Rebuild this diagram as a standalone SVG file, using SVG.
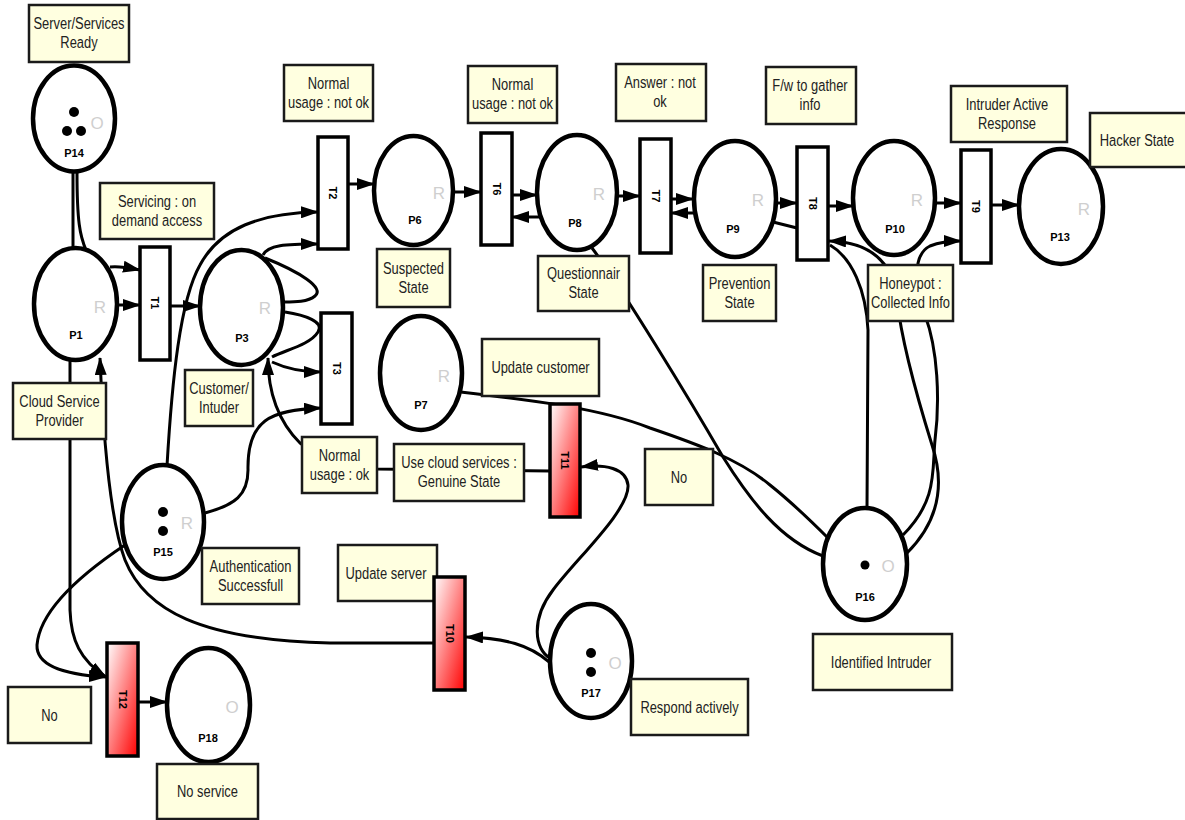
<svg xmlns="http://www.w3.org/2000/svg" width="1185" height="820" viewBox="0 0 1185 820">
<defs>
<linearGradient id="red" x1="0" y1="0" x2="1" y2="1">
<stop offset="0" stop-color="#ffffff"/>
<stop offset="1" stop-color="#ff0000"/>
</linearGradient>
<marker id="ah" markerUnits="userSpaceOnUse" markerWidth="18" markerHeight="12" refX="17" refY="6" orient="auto">
<path d="M0,0 L18,6 L0,12 z" fill="#000"/>
</marker>
<style>
.pl{fill:#fff;stroke:#000;stroke-width:4.5}
.tr{fill:#fff;stroke:#000;stroke-width:3.5}
.trr{fill:url(#red);stroke:#000;stroke-width:3.5}
.lb{fill:#ffffe0;stroke:#1a1a1a;stroke-width:2.5}
.lt{font-family:"Liberation Sans",Arial,sans-serif;font-size:17px;fill:#222;text-anchor:middle}
.pn{font-family:"Liberation Sans",Arial,sans-serif;font-size:11px;font-weight:bold;fill:#000;text-anchor:middle}
.rr{font-family:"Liberation Sans",Arial,sans-serif;font-size:17px;fill:#cfcfcf;text-anchor:middle}
.tn{font-family:"Liberation Sans",Arial,sans-serif;font-size:11px;font-weight:bold;fill:#000;text-anchor:middle}
.c{fill:none;stroke:#000;stroke-width:3}
.a{marker-end:url(#ah)}
.tk{fill:#000}
</style>
</defs>
<rect width="1185" height="820" fill="#fff"/>

<g id="connectors">
<path class="c" d="M73,172 L73,249"/>
<path class="c" d="M77,172 C77,222 80,236 86,250"/>
<path class="c a" d="M110,267 C122,266 130,268 140,270"/>
<path class="c a" d="M117,305 L140,305"/>
<path class="c a" d="M170,306 L200,306"/>
<path class="c a" d="M167,466 C172,380 180,300 200,265 C220,228 260,213 318,212"/>
<path class="c a" d="M263,255 C268,245 285,244 318,244"/>
<path class="c" d="M265,258 C300,272 325,288 315,296 C308,302 295,302 284,302"/>
<path class="c" d="M285,312 C305,315 325,322 318,332 C310,345 285,350 272,357"/>
<path class="c a" d="M272,362 C285,368 300,372 321,372"/>
<path class="c a" d="M205,513 C235,505 248,495 248,470 C247,420 270,410 321,408"/>
<path class="c a" d="M550,471 L377,469 C340,466 320,458 300,443 C282,425 268,400 268,358"/>
<path class="c a" d="M348,184 L374,184"/>
<path class="c a" d="M453,192 L481,192"/>
<path class="c a" d="M512,195 L537,195"/>
<path class="c a" d="M541,217 L512,217"/>
<path class="c a" d="M617,196 L640,196"/>
<path class="c a" d="M671,199 L693,199"/>
<path class="c a" d="M695,213 L671,213"/>
<path class="c a" d="M776,203 L797,203"/>
<path class="c" d="M773,222 L797,228"/>
<path class="c a" d="M828,206 L853,206"/>
<path class="c a" d="M936,203 L961,203"/>
<path class="c a" d="M991,205 L1019,205"/>
<path class="c a" d="M907,553 C945,515 942,475 932,445 C918,400 902,345 897,300 C893,262 870,242 829,241"/>
<path class="c a" d="M903,535 C938,500 932,470 935,440 C940,400 938,350 925,315 C915,285 912,255 930,246 C940,242 950,241 961,241"/>
<path class="c" d="M867,508 L868,330 C866,290 852,258 830,245"/>
<path class="c" d="M461,392 C530,400 600,408 650,428 C700,445 740,460 770,485 C795,505 815,525 828,538"/>
<path class="c" d="M592,248 C620,285 690,400 723,457 C750,500 780,540 823,556"/>
<path class="c a" d="M70,360 L70,610 C71,640 80,660 106,677"/>
<path class="c a" d="M125,545 C80,575 40,610 37,645 C36,668 70,675 106,677"/>
<path class="c a" d="M434,643 L330,643 C200,640 145,610 125,560 C110,520 103,430 100,358"/>
<path class="c a" d="M549,662 C530,645 505,638 466,637"/>
<path class="c a" d="M550,658 C535,650 530,620 553,590 C575,560 630,510 628,485 C626,468 605,464 581,467"/>
<path class="c a" d="M138,702 L167,702"/>
</g>

<g id="P14"><ellipse class="pl" cx="74" cy="118.5" rx="41" ry="53"/><circle class="tk" cx="74" cy="112" r="5"/><circle class="tk" cx="67" cy="131" r="5"/><circle class="tk" cx="81" cy="131" r="5"/><text class="rr" x="97" y="129">O</text><text class="pn" x="74" y="157">P14</text></g>
<g id="P1"><ellipse class="pl" cx="75.5" cy="304" rx="41.5" ry="56"/><text class="rr" x="100" y="313">R</text><text class="pn" x="76" y="339">P1</text></g>
<g id="P3"><ellipse class="pl" cx="241.5" cy="307.5" rx="41.5" ry="57.5"/><text class="rr" x="265" y="314">R</text><text class="pn" x="242" y="342">P3</text></g>
<g id="P6"><ellipse class="pl" cx="413.5" cy="190.5" rx="39.5" ry="54.5"/><text class="rr" x="439" y="199">R</text><text class="pn" x="415" y="224">P6</text></g>
<g id="P8"><ellipse class="pl" cx="577" cy="192.5" rx="40" ry="57.5"/><text class="rr" x="599" y="200">R</text><text class="pn" x="575" y="227">P8</text></g>
<g id="P9"><ellipse class="pl" cx="735" cy="199" rx="41" ry="58"/><text class="rr" x="758" y="206">R</text><text class="pn" x="733" y="233">P9</text></g>
<g id="P10"><ellipse class="pl" cx="894" cy="198" rx="41" ry="57"/><text class="rr" x="917" y="206">R</text><text class="pn" x="895" y="233">P10</text></g>
<g id="P13"><ellipse class="pl" cx="1061" cy="206.5" rx="42" ry="57.5"/><text class="rr" x="1084" y="215">R</text><text class="pn" x="1060" y="241">P13</text></g>
<g id="P7"><ellipse class="pl" cx="421" cy="373" rx="41" ry="57"/><text class="rr" x="444" y="382">R</text><text class="pn" x="421" y="409">P7</text></g>
<g id="P15"><ellipse class="pl" cx="163" cy="522" rx="41" ry="57"/><circle class="tk" cx="163" cy="512" r="5"/><circle class="tk" cx="163" cy="531" r="5"/><text class="rr" x="187" y="529">R</text><text class="pn" x="163" y="556">P15</text></g>
<g id="P18"><ellipse class="pl" cx="208.5" cy="705" rx="41.5" ry="57"/><text class="rr" x="232" y="713">O</text><text class="pn" x="208" y="742">P18</text></g>
<g id="P17"><ellipse class="pl" cx="591" cy="661" rx="41" ry="57"/><circle class="tk" cx="591" cy="653" r="5"/><circle class="tk" cx="591" cy="672" r="5"/><text class="rr" x="615" y="669">O</text><text class="pn" x="591" y="697">P17</text></g>
<g id="P16"><ellipse class="pl" cx="865" cy="564" rx="42" ry="56"/><circle class="tk" cx="865" cy="565" r="4.5"/><text class="rr" x="888" y="572">O</text><text class="pn" x="865" y="601">P16</text></g>

<g id="T1"><rect class="tr" x="140" y="247" width="30" height="113"/><text class="tn" transform="translate(155,303) rotate(90)" y="4">T1</text></g>
<g id="T2"><rect class="tr" x="318" y="137" width="30" height="112"/><text class="tn" transform="translate(333,193) rotate(90)" y="4">T2</text></g>
<g id="T3"><rect class="tr" x="321" y="313" width="31" height="111"/><text class="tn" transform="translate(336.5,368.5) rotate(90)" y="4">T3</text></g>
<g id="T6"><rect class="tr" x="481" y="133" width="31" height="112"/><text class="tn" transform="translate(496.5,189) rotate(90)" y="4">T6</text></g>
<g id="T7"><rect class="tr" x="640" y="139" width="31" height="114"/><text class="tn" transform="translate(655.5,196) rotate(90)" y="4">T7</text></g>
<g id="T8"><rect class="tr" x="797" y="147" width="31" height="113"/><text class="tn" transform="translate(812.5,203.5) rotate(90)" y="4">T8</text></g>
<g id="T9"><rect class="tr" x="961" y="150" width="30" height="113"/><text class="tn" transform="translate(976,206.5) rotate(90)" y="4">T9</text></g>

<g id="L1"><rect class="lb" x="29" y="5" width="100" height="57"/><text class="lt" transform="matrix(0.76 0 0 1 79 0)"><tspan x="0" y="29.5">Server/Services</tspan><tspan x="0" y="48.5">Ready</tspan></text></g>
<g id="L2"><rect class="lb" x="100" y="183" width="114" height="56"/><text class="lt" transform="matrix(0.76 0 0 1 157 0)"><tspan x="0" y="207">Servicing : on</tspan><tspan x="0" y="226">demand access</tspan></text></g>
<g id="L3"><rect class="lb" x="284" y="65" width="89" height="56"/><text class="lt" transform="matrix(0.76 0 0 1 328.5 0)"><tspan x="0" y="89">Normal</tspan><tspan x="0" y="108">usage : not ok</tspan></text></g>
<g id="L4"><rect class="lb" x="468" y="66" width="89" height="57"/><text class="lt" transform="matrix(0.76 0 0 1 512.5 0)"><tspan x="0" y="90.5">Normal</tspan><tspan x="0" y="109.5">usage : not ok</tspan></text></g>
<g id="L5"><rect class="lb" x="616" y="64" width="90" height="57"/><text class="lt" transform="matrix(0.76 0 0 1 660 0)"><tspan x="0" y="88.5">Answer : not</tspan><tspan x="0" y="107.5">ok</tspan></text></g>
<g id="L6"><rect class="lb" x="766" y="67" width="90" height="57"/><text class="lt" transform="matrix(0.76 0 0 1 810 0)"><tspan x="0" y="91.5">F/w to gather</tspan><tspan x="0" y="110.5">info</tspan></text></g>
<g id="L7"><rect class="lb" x="951" y="86" width="116" height="56"/><text class="lt" transform="matrix(0.76 0 0 1 1007 0)"><tspan x="0" y="110">Intruder Active</tspan><tspan x="0" y="129">Response</tspan></text></g>
<g id="L8"><rect class="lb" x="1090" y="113" width="100" height="54"/><text class="lt" transform="matrix(0.76 0 0 1 1137 0)"><tspan x="0" y="146">Hacker State</tspan></text></g>
<g id="L9"><rect class="lb" x="377" y="249" width="73" height="58"/><text class="lt" transform="matrix(0.76 0 0 1 413.5 0)"><tspan x="0" y="274">Suspected</tspan><tspan x="0" y="293">State</tspan></text></g>
<g id="L10"><rect class="lb" x="538" y="256" width="91" height="55"/><text class="lt" transform="matrix(0.76 0 0 1 583.5 0)"><tspan x="0" y="279.5">Questionnair</tspan><tspan x="0" y="298.5">State</tspan></text></g>
<g id="L11"><rect class="lb" x="703" y="265" width="73" height="56"/><text class="lt" transform="matrix(0.76 0 0 1 739.5 0)"><tspan x="0" y="289">Prevention</tspan><tspan x="0" y="308">State</tspan></text></g>
<g id="L12"><rect class="lb" x="868" y="265" width="85" height="56"/><text class="lt" transform="matrix(0.76 0 0 1 910.5 0)"><tspan x="0" y="289">Honeypot :</tspan><tspan x="0" y="308">Collected Info</tspan></text></g>
<g id="L13"><rect class="lb" x="13" y="383" width="93" height="56"/><text class="lt" transform="matrix(0.76 0 0 1 59.5 0)"><tspan x="0" y="407">Cloud Service</tspan><tspan x="0" y="426">Provider</tspan></text></g>
<g id="L14"><rect class="lb" x="185" y="370" width="68" height="56"/><text class="lt" transform="matrix(0.76 0 0 1 219 0)"><tspan x="0" y="394">Customer/</tspan><tspan x="0" y="413">Intuder</tspan></text></g>
<g id="L15"><rect class="lb" x="482" y="339" width="117" height="57"/><text class="lt" transform="matrix(0.76 0 0 1 540.5 0)"><tspan x="0" y="373.5">Update customer</tspan></text></g>
<g id="L16"><rect class="lb" x="302" y="437" width="75" height="56"/><text class="lt" transform="matrix(0.76 0 0 1 339.5 0)"><tspan x="0" y="461">Normal</tspan><tspan x="0" y="480">usage : ok</tspan></text></g>
<g id="L17"><rect class="lb" x="394" y="444" width="130" height="57"/><text class="lt" transform="matrix(0.76 0 0 1 459 0)"><tspan x="0" y="468.5">Use cloud services :</tspan><tspan x="0" y="487.5">Genuine State</tspan></text></g>
<g id="L18"><rect class="lb" x="645" y="449" width="68" height="56"/><text class="lt" transform="matrix(0.76 0 0 1 679 0)"><tspan x="0" y="483">No</tspan></text></g>
<g id="L19"><rect class="lb" x="202" y="548" width="97" height="56"/><text class="lt" transform="matrix(0.76 0 0 1 250.5 0)"><tspan x="0" y="572">Authentication</tspan><tspan x="0" y="591">Successfull</tspan></text></g>
<g id="L20"><rect class="lb" x="338" y="545" width="99" height="56"/><text class="lt" transform="matrix(0.76 0 0 1 386 0)"><tspan x="0" y="579">Update server</tspan></text></g>
<g id="L21"><rect class="lb" x="8" y="687" width="83" height="56"/><text class="lt" transform="matrix(0.76 0 0 1 49.5 0)"><tspan x="0" y="721">No</tspan></text></g>
<g id="L22"><rect class="lb" x="157" y="764" width="101" height="55"/><text class="lt" transform="matrix(0.76 0 0 1 207.5 0)"><tspan x="0" y="797.5">No service</tspan></text></g>
<g id="L23"><rect class="lb" x="631" y="679" width="117" height="56"/><text class="lt" transform="matrix(0.76 0 0 1 689.5 0)"><tspan x="0" y="713">Respond actively</tspan></text></g>
<g id="L24"><rect class="lb" x="813" y="634" width="139" height="56"/><text class="lt" transform="matrix(0.76 0 0 1 881 0)"><tspan x="0" y="668">Identified Intruder</tspan></text></g>

<g id="T10"><rect class="trr" x="434" y="577" width="31" height="113"/><text class="tn" transform="translate(449.5,633.5) rotate(90)" y="4">T10</text></g>
<g id="T11"><rect class="trr" x="550" y="404" width="30" height="113"/><text class="tn" transform="translate(565,460.5) rotate(90)" y="4">T11</text></g>
<g id="T12"><rect class="trr" x="107" y="643" width="31" height="113"/><text class="tn" transform="translate(122.5,699.5) rotate(90)" y="4">T12</text></g>
</svg>
